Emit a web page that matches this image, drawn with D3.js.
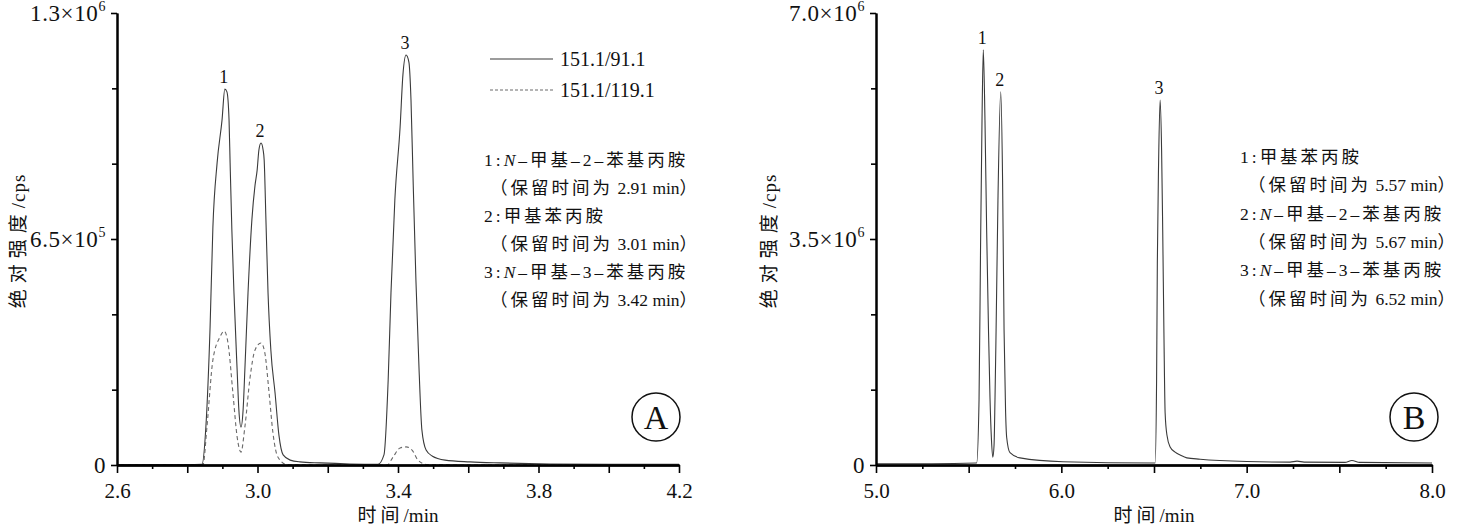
<!DOCTYPE html>
<html><head><meta charset="utf-8">
<script src="https://cdn.jsdelivr.net/npm/d3@7"></script>
<style>
body{margin:0;background:#fff}
svg{display:block}
text{font-family:"Liberation Serif","Times New Roman",serif;fill:#111}
.cjk{font-family:"Noto Sans CJK SC","Noto Sans CJK JP",sans-serif}
</style></head><body>
<svg id="c" width="1463" height="529"></svg>
<script>
// ---------- Panel A data (time in min, intensity in 1e5 cps) ----------
const timeA1 = [2.60,2.70,2.80,2.842,2.853,2.865,2.873,2.885,2.899,2.907,2.913,2.919,2.922,2.927,2.933,2.942,2.947,2.953,2.959,2.964,2.973,2.984,2.993,2.999,3.004,3.010,3.016,3.019,3.024,3.030,3.038,3.050,3.061,3.073,3.093,3.121,3.178,3.263,3.343,3.360,3.372,3.380,3.391,3.406,3.414,3.423,3.431,3.437,3.443,3.451,3.460,3.468,3.480,3.497,3.534,3.605,3.690,3.833,4.00,4.20];
const intA1  = [0.01,0.01,0.01,0.02,1.09,3.97,6.84,8.69,9.92,10.81,10.73,9.92,8.69,6.76,4.95,2.73,1.58,1.09,1.58,2.73,4.95,7.05,8.05,8.48,9.06,9.26,9.06,8.77,7.05,4.95,3.31,2.07,0.86,0.29,0.14,0.09,0.06,0.03,0.02,0.29,2.44,4.95,7.62,9.72,11.22,11.79,11.59,10.50,8.20,5.32,2.73,1.01,0.43,0.26,0.14,0.09,0.06,0.03,0.02,0.02];
const timeA2 = [2.60,2.80,2.845,2.856,2.873,2.893,2.905,2.916,2.930,2.942,2.953,2.964,2.979,2.993,3.010,3.021,3.033,3.044,3.058,3.084,3.20,3.369,3.386,3.406,3.423,3.440,3.457,3.483,3.60,4.20];
const intA2  = [0.00,0.00,0.01,1.09,3.02,3.68,3.85,3.51,2.07,0.81,0.37,1.09,2.53,3.31,3.51,3.22,2.07,0.92,0.23,0.01,0.00,0.00,0.23,0.49,0.52,0.43,0.14,0.01,0.00,0.00];
const peakNamesA = ["1","2","3"];
const peakTimesA = [2.907,3.010,3.423];
const peakHeightsA = [10.81,9.26,11.79];
const xLabelTicksA = [2.6,3.0,3.4,3.8,4.2];
const xMajorTicksA = [2.8,3.2,3.6,4.0];
const xMinorTicksA = [2.7,2.9,3.1,3.3,3.5,3.7,3.9,4.1];
const yTicksA = [0,6.5,13];
const yTickTextA = [["0",""],["6.5×10","5"],["1.3×10","6"]];
const yMinorTicksA = [2.1667,4.3333,8.6667,10.8333];
const legendNames = ["151.1/91.1","151.1/119.1"];
const notesA = [
  "1:|N|–甲基–2–苯基丙胺",
  "（保留时间为 2.91 min）",
  "2:甲基苯丙胺",
  "（保留时间为 3.01 min）",
  "3:|N|–甲基–3–苯基丙胺",
  "（保留时间为 3.42 min）"
];

// ---------- Panel B data (time in min, intensity in 1e5 cps) ----------
const timeB = [5.00,5.30,5.543,5.556,5.564,5.572,5.579,5.588,5.597,5.607,5.615,5.623,5.630,5.637,5.642,5.648,5.658,5.673,5.683,5.691,5.699,5.705,5.723,5.777,6.009,6.495,6.506,6.514,6.518,6.525,6.533,6.541,6.547,6.554,6.560,6.570,6.587,6.614,6.641,6.677,6.749,7.00,7.234,7.272,7.31,7.53,7.568,7.61,8.00];
const intB  = [0.2,0.2,0.3,10.1,33.3,53.4,64.3,53.4,36.4,20.9,10.5,3.9,1.2,3.1,10.1,20.9,41.0,57.8,44.1,20.9,8.5,4.3,1.9,1.1,0.5,0.3,0.3,13.2,31.3,47.2,56.5,48.8,36.4,19.4,8.1,4.6,2.8,2.0,1.55,1.1,0.9,0.55,0.45,0.6,0.45,0.4,0.7,0.4,0.3];
const peakNamesB = ["1","2","3"];
const peakTimesB = [5.579,5.673,6.533];
const peakHeightsB = [64.3,57.8,56.5];
const xLabelTicksB = [5.0,6.0,7.0,8.0];
const xMajorTicksB = [5.5,6.5,7.5];
const xMinorTicksB = [5.25,5.75,6.25,6.75,7.25,7.75];
const yTicksB = [0,35,70];
const yTickTextB = [["0",""],["3.5×10","6"],["7.0×10","6"]];
const yMinorTicksB = [11.667,23.333,46.667,58.333];
const notesB = [
  "1:甲基苯丙胺",
  "（保留时间为 5.57 min）",
  "2:|N|–甲基–2–苯基丙胺",
  "（保留时间为 5.67 min）",
  "3:|N|–甲基–3–苯基丙胺",
  "（保留时间为 6.52 min）"
];

const svg = d3.select("#c");
const Y0 = 465, Y1 = 13;
const CJK = /[\u3000-\u9fff\uff00-\uffef]+|[^\u3000-\u9fff\uff00-\uffef]+/g;

// write a string as runs: CJK runs in CJK font (spaced), Latin runs in serif
function runs(t, str, sp, latSp){
  str.split("|").forEach(part=>{
    if (part==="N"){ t.append("tspan").attr("font-style","italic").attr("letter-spacing",latSp).text("N"); return; }
    (part.match(CJK)||[]).forEach(r=>{
      const s = t.append("tspan").text(r);
      if (/[\u3000-\u9fff\uff00-\uffef]/.test(r)) s.attr("class","cjk").attr("letter-spacing",sp);
      else if (latSp) s.attr("letter-spacing",latSp);
    });
  });
}

function panel(o){
  const x = d3.scaleLinear().domain(o.xDomain).range([o.x0, o.x1]);
  const y = d3.scaleLinear().domain(o.yDomain).range([Y0, Y1]);
  const g = svg.append("g");

  const line = d3.line().x(d=>x(d[0])).y(d=>y(d[1])).curve(d3.curveMonotoneX);
  o.series.forEach(s=>{
    g.append("path").datum(s.t.map((t,i)=>[t,s.v[i]]))
      .attr("d", line).attr("fill","none")
      .attr("stroke", s.color).attr("stroke-width", s.w)
      .attr("stroke-dasharray", s.dash || null);
  });

  const ax = (vals, size, fmt) => {
    const a = g.append("g").attr("transform",`translate(0,${Y0})`)
      .call(d3.axisBottom(x).tickValues(vals).tickSize(size).tickSizeOuter(0).tickFormat(fmt));
    a.attr("font-family",null);
    a.select(".domain").attr("stroke","#000").attr("stroke-width",2);
    a.selectAll(".tick line").attr("stroke","#000").attr("stroke-width",1.6);
    a.selectAll("text").attr("font-size",21).attr("dy",null).attr("y",33).attr("fill","#111");
    return a;
  };
  ax(o.xMinor, 4, ()=>"");
  ax(o.xMajor, 8, ()=>"");
  ax(o.xLabels, 8, d=>d.toFixed(1));

  const ay1 = g.append("g").attr("transform",`translate(${o.x0},0)`)
    .call(d3.axisLeft(y).tickValues(o.yMinor).tickSize(5).tickSizeOuter(0).tickFormat(()=>""));
  const ay = g.append("g").attr("transform",`translate(${o.x0},0)`)
    .call(d3.axisLeft(y).tickValues(o.yTicks).tickSize(6).tickSizeOuter(0).tickFormat(()=>""));
  [ay1, ay].forEach(a=>{
    a.select(".domain").attr("stroke","#000").attr("stroke-width",2);
    a.selectAll(".tick line").attr("stroke","#000").attr("stroke-width",1.6);
  });
  o.yTicks.forEach((v,i)=>{
    const t = g.append("text").attr("x", o.x0-11).attr("y", y(v)+8)
      .attr("text-anchor","end").attr("font-size",23).attr("letter-spacing",0.6);
    t.append("tspan").text(o.yText[i][0]);
    if (o.yText[i][1]) t.append("tspan").attr("dy",-10).attr("font-size",14).text(o.yText[i][1]);
  });

  const yt = g.append("text").attr("transform",`translate(${o.ytX},${(Y0+Y1)/2+2}) rotate(-90)`)
    .attr("text-anchor","middle").attr("font-size",19);
  runs(yt, "绝对强度/cps", 6, 1);
  const xt = g.append("text").attr("x",(o.x0+o.x1)/2).attr("y",522)
    .attr("text-anchor","middle").attr("font-size",19);
  runs(xt, "时间/min", 4, 0);

  o.peaks.names.forEach((n,i)=>{
    g.append("text").attr("x",x(o.peaks.t[i])-1).attr("y",y(o.peaks.h[i])-6)
      .attr("text-anchor","middle").attr("font-size",18).text(n);
  });

  o.notes.forEach((ln,i)=>{
    const paren = ln.startsWith("（");
    const t = g.append("text").attr("x", paren ? o.noteX2 : o.noteX)
      .attr("y", o.noteY + i*o.noteDy).attr("font-size",17.5);
    runs(t, ln, 3, paren ? 0 : 3);
  });

  g.append("circle").attr("cx",o.circ[0]).attr("cy",o.circ[1]).attr("r",24)
    .attr("fill","none").attr("stroke","#111").attr("stroke-width",1.5);
  g.append("text").attr("x",o.circ[0]).attr("y",o.circ[1]+12)
    .attr("text-anchor","middle").attr("font-size",34).text(o.letter);
  return {x,y,g};
}

panel({
  xDomain:[2.6,4.2], x0:117, x1:679, yDomain:[0,13],
  series:[
    {t:timeA1, v:intA1, color:"#3a3a3a", w:1.1},
    {t:timeA2, v:intA2, color:"#6a6a6a", w:1.1, dash:"4,3"}
  ],
  xLabels:xLabelTicksA, xMajor:xMajorTicksA, xMinor:xMinorTicksA,
  yTicks:yTicksA, yText:yTickTextA, yMinor:yMinorTicksA, ytX:25,
  peaks:{names:peakNamesA, t:peakTimesA, h:peakHeightsA},
  notes:notesA, noteX:484, noteX2:490, noteY:166, noteDy:28,
  circ:[656,417], letter:"A"
});

[["#3a3a3a",null],["#6a6a6a","3,2"]].forEach((s,i)=>{
  const yy = 59 + i*31;
  svg.append("line").attr("x1",490).attr("x2",553).attr("y1",yy).attr("y2",yy)
    .attr("stroke",s[0]).attr("stroke-width",1.1).attr("stroke-dasharray",s[1]);
  svg.append("text").attr("x",560).attr("y",yy+7).attr("font-size",20).text(legendNames[i]);
});

panel({
  xDomain:[5.0,8.0], x0:876, x1:1432, yDomain:[0,70],
  series:[{t:timeB, v:intB, color:"#3a3a3a", w:1.1}],
  xLabels:xLabelTicksB, xMajor:xMajorTicksB, xMinor:xMinorTicksB,
  yTicks:yTicksB, yText:yTickTextB, yMinor:yMinorTicksB, ytX:776,
  peaks:{names:peakNamesB, t:peakTimesB, h:peakHeightsB},
  notes:notesB, noteX:1240, noteX2:1248, noteY:163, noteDy:28.3,
  circ:[1414,417], letter:"B"
});
</script>
</body></html>
